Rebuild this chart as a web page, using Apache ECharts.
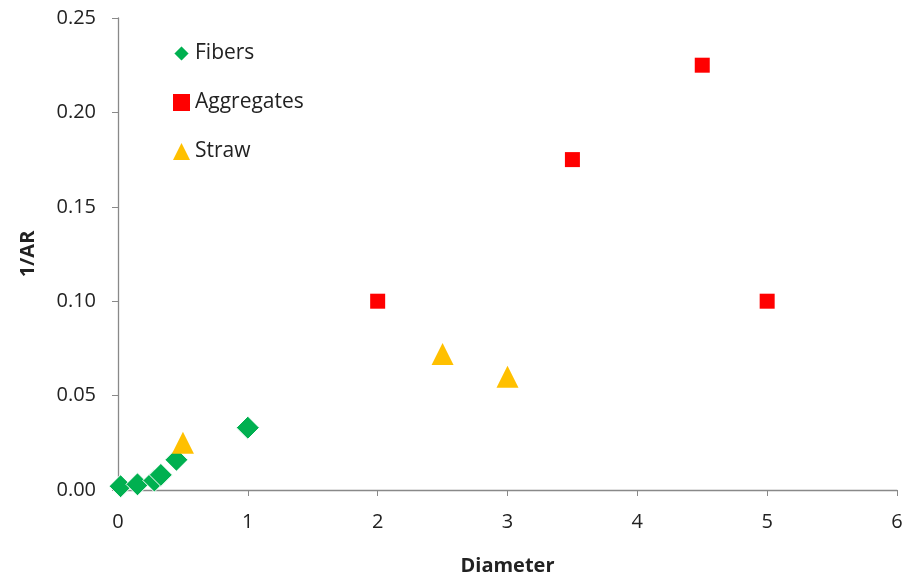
<!DOCTYPE html>
<html><head><meta charset="utf-8">
<script src="https://cdn.jsdelivr.net/npm/echarts@6/dist/echarts.min.js"></script>
<style>html,body{margin:0;padding:0;background:#fff}#c{width:907px;height:581px}</style>
</head><body><div id="c"></div>
<script>
const fibers = [[0.02,0.002],[0.15,0.003],[0.28,0.005],[0.33,0.008],[0.45,0.016],[1.0,0.033]];
const aggregates = [[2.0,0.100],[3.5,0.175],[4.5,0.225],[5.0,0.100]];
const straw = [[0.5,0.025],[2.5,0.072],[3.0,0.060]];
const xTicks = {min:0,max:6,interval:1};
const yTicks = {min:0,max:0.25,interval:0.05};

const font = 'Open Sans';
const axisLine = {lineStyle:{color:'#898989',width:1.3}};
const chart = echarts.init(document.getElementById('c'));
chart.setOption({
  animation:false,
  grid:{left:118,right:10,top:18,bottom:90,containLabel:false},
  legend:{
    orient:'vertical', left:167, top:38, itemGap:28, itemWidth:17, itemHeight:17,
    textStyle:{fontFamily:font,fontSize:21,color:'#222'},
    data:[{name:'Fibers',icon:'diamond'},{name:'Aggregates',icon:'rect'},{name:'Straw',icon:'triangle'}]
  },
  xAxis:{type:'value',min:xTicks.min,max:xTicks.max,interval:xTicks.interval,
    name:'Diameter',nameLocation:'middle',nameGap:66,
    nameTextStyle:{fontFamily:font,fontSize:20,fontWeight:'bold',color:'#222'},
    axisLine:axisLine,axisTick:{show:true,length:6,lineStyle:{color:'#898989'}},
    axisLabel:{fontFamily:font,fontSize:20,color:'#222',margin:22},
    splitLine:{show:false}},
  yAxis:{type:'value',min:yTicks.min,max:yTicks.max,interval:yTicks.interval,
    name:'1/AR',nameLocation:'middle',nameGap:80,
    nameTextStyle:{fontFamily:font,fontSize:20,fontWeight:'bold',color:'#222'},
    axisLine:{show:true,lineStyle:{color:'#898989',width:1.3}},axisTick:{show:true,length:6,lineStyle:{color:'#898989'}},
    axisLabel:{fontFamily:font,fontSize:20,color:'#222',margin:22,formatter:v=>v.toFixed(2)},
    splitLine:{show:false}},
  series:[
    {name:'Fibers',type:'scatter',data:fibers,symbol:'diamond',symbolSize:23,itemStyle:{color:'#00b050',borderColor:'#fff',borderWidth:1,opacity:1}},
    {name:'Aggregates',type:'scatter',data:aggregates,symbol:'rect',symbolSize:15,itemStyle:{color:'#ff0000',opacity:1}},
    {name:'Straw',type:'scatter',data:straw,symbol:'triangle',symbolSize:22,itemStyle:{color:'#ffc000',opacity:1}}
  ]
});
</script></body></html>
